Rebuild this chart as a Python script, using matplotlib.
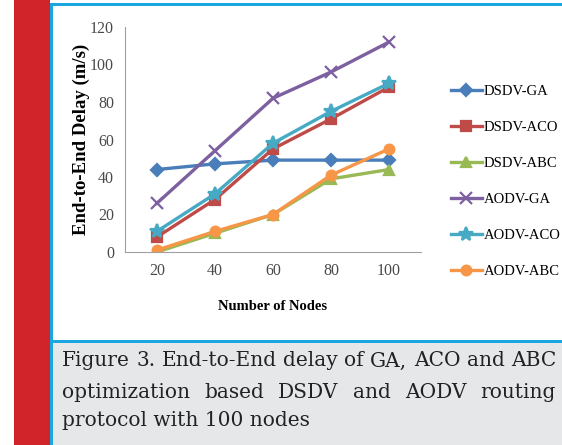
import matplotlib.pyplot as plt
from matplotlib.patches import Rectangle
from matplotlib.lines import Line2D

nodes = ['20', '40', '60', '80', '100']
dsdv_ga = [44, 47, 49, 49, 49]
dsdv_aco = [8, 28, 55, 71, 88]
dsdv_abc = [0, 10, 20, 39, 44]
aodv_ga = [26, 54, 82, 96, 112]
aodv_aco = [11, 31, 58, 75, 90]
aodv_abc = [1, 11, 20, 41, 55]

series = [
    ('DSDV-GA', dsdv_ga, '#4A7EBB', 'D', 6),
    ('DSDV-ACO', dsdv_aco, '#BE4B48', 's', 7),
    ('DSDV-ABC', dsdv_abc, '#98B954', '^', 7),
    ('AODV-GA', aodv_ga, '#7D60A0', 'x', 9),
    ('AODV-ACO', aodv_aco, '#46AAC5', '*', 10),
    ('AODV-ABC', aodv_abc, '#F79646', 'o', 7),
]

caption_lines = ['Figure 3. End-to-End delay of GA, ACO and ABC',
                 'optimization based DSDV and AODV routing',
                 'protocol with 100 nodes']

W, H = 562, 445
fig = plt.figure(figsize=(W / 100, H / 100), dpi=100)
fig.patch.set_facecolor('white')

def px(x, y, w, h):
    # pixel box (top-left origin) -> figure fraction
    return (x / W, 1 - (y + h) / H, w / W, h / H)

def rect(x, y, w, h, color):
    b = px(x, y, w, h)
    fig.patches.append(Rectangle((b[0], b[1]), b[2], b[3], transform=fig.transFigure,
                                 facecolor=color, edgecolor='none', zorder=0))

# page decoration
rect(14, 0, 36, H, '#D1232A')
rect(50, 3, 3, 340, '#1AA7E0')
rect(50, 3, W - 50, 3, '#1AA7E0')
rect(50, 340, W - 50, 3, '#1AA7E0')
rect(50, 343, 3, H - 343, '#1AA7E0')
rect(53, 343, W - 53, H - 343, '#E6E7E9')

ax = fig.add_axes(px(125, 27, 296, 225))
xs = range(len(nodes))
for name, vals, col, mk, ms in series:
    ax.plot(xs, vals, color=col, lw=2.4, marker=mk, ms=ms, mew=1.6,
            mfc=col, mec=col, label=name)

ax.set_xlim(-0.55, len(nodes) - 0.45)
ax.set_ylim(0, 120)
ax.set_yticks(range(0, 121, 20))
ax.set_xticks(list(xs))
ax.set_xticklabels(nodes)
for s in ['top', 'right']:
    ax.spines[s].set_visible(False)
for s in ['left', 'bottom']:
    ax.spines[s].set_color('#A0A0A0')
    ax.spines[s].set_linewidth(0.8)
ax.tick_params(length=0, labelsize=11.5, colors='#4a4a4a', pad=8)
for t in ax.get_xticklabels() + ax.get_yticklabels():
    t.set_family('Liberation Serif')
ax.set_ylabel('End-to-End Delay (m/s)', family='Liberation Serif', fontweight='bold',
              fontsize=13.5, labelpad=0)
ax.set_xlabel('Number of Nodes', family='Liberation Serif', fontweight='bold',
              fontsize=10.5, labelpad=15)

handles = [Line2D([], [], color=c, lw=2.4, marker=m, ms=ms, mew=1.6, mfc=c, mec=c)
           for _, _, c, m, ms in series]
fig.legend(handles, [s[0] for s in series], loc='upper left',
           bbox_to_anchor=(438 / W, 1 - 72 / H), frameon=False,
           prop={'family': 'Liberation Serif', 'size': 10.5},
           handlelength=2.1, handletextpad=0.15, labelspacing=1.56)

# justified caption
fig.canvas.draw()
r = fig.canvas.get_renderer()
left, right = 62, 556
probe = fig.text(0, 0, caption_lines[0], family='DejaVu Serif', fontsize=10)
cap_size = 10 * (right - left) / probe.get_window_extent(r).width
probe.remove()
ys = [361, 392, 421]
for i, line in enumerate(caption_lines):
    y = 1 - ys[i] / H
    if i == len(caption_lines) - 1:
        fig.text(left / W, y, line, family='DejaVu Serif', fontsize=cap_size,
                 color='#222222', va='center')
        continue
    words = line.split(' ')
    texts = [fig.text(0, y, w, family='DejaVu Serif', fontsize=cap_size,
                      color='#222222', va='center') for w in words]
    widths = [t.get_window_extent(r).width for t in texts]
    gap = (right - left - sum(widths)) / (len(words) - 1)
    x = left
    for t, w in zip(texts, widths):
        t.set_x(x / W)
        x += w + gap

fig.savefig('out.png', dpi=100)
